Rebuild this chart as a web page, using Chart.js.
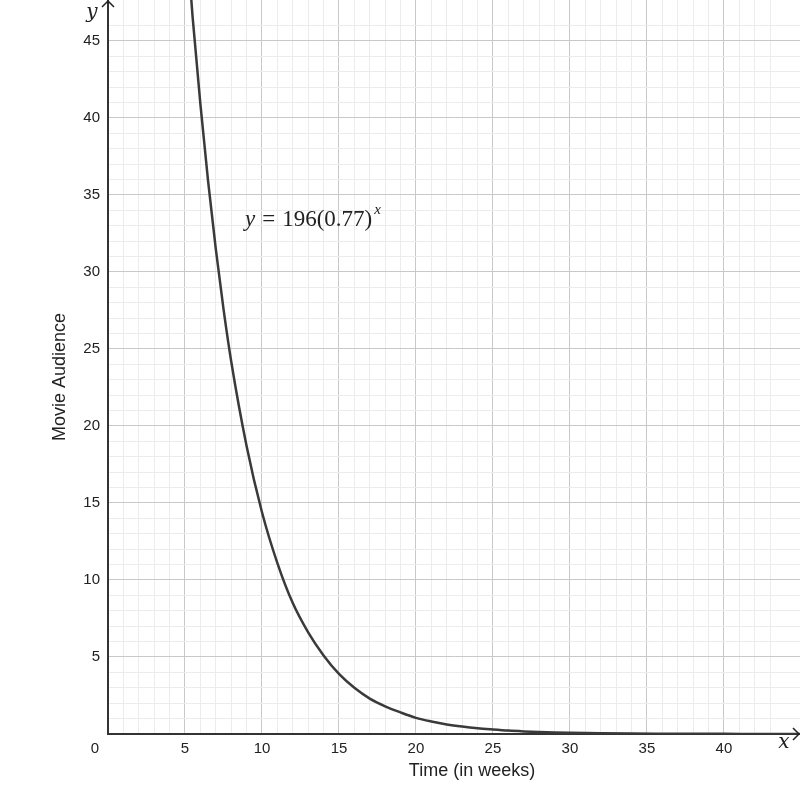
<!DOCTYPE html>
<html>
<head>
<meta charset="utf-8">
<script src="https://cdn.jsdelivr.net/npm/chart.js@4"></script>
<style>
  html, body { margin: 0; padding: 0; background: #fff; }
  #wrap { width: 800px; height: 809px; }
</style>
</head>
<body>
<div id="wrap"><canvas id="audienceChart" width="800" height="809"></canvas></div>
<script>
// weeks and audience
const weeks = [5, 5.5, 6, 6.5, 7, 7.5, 8, 9, 10, 11, 12, 13, 14, 15, 16, 17, 18, 19, 20,
  21, 22, 23, 24, 25, 26, 27, 28, 29, 30, 32, 34, 36, 38, 40, 42, 45];
const audience = [53.1, 46.5, 40.9, 35.9, 31.5, 27.6, 24.2, 18.7, 14.4, 11.1, 8.5, 6.6, 5.1, 3.9, 3.0, 2.3, 1.8, 1.4, 1.05,
  0.81, 0.62, 0.48, 0.37, 0.29, 0.22, 0.17, 0.13, 0.1, 0.08, 0.05, 0.03, 0.02, 0.01, 0.01, 0.005, 0.003];
const xMax = 44.94;
const yMax = 47.66;
const majorStep = 5;

const gridColor = (ctx) => {
  const v = ctx.tick.value;
  if (Math.abs(v - Math.round(v)) > 1e-6) return "rgba(0,0,0,0)";
  return v % majorStep === 0 ? "#c8c8c8" : "#ececec";
};
const tickLabel = (v) => (v !== 0 && v % majorStep === 0 ? String(v) : "");

// arrows, axis names and the equation label
const decorations = {
  id: "decorations",
  afterDraw(chart) {
    const { ctx, chartArea } = chart;
    const x0 = chart.scales.x.getPixelForValue(0);
    const y0 = chart.scales.y.getPixelForValue(0);
    ctx.save();
    ctx.strokeStyle = "#222";
    ctx.lineWidth = 1.5;
    ctx.beginPath();
    ctx.moveTo(x0 - 6, chartArea.top + 7);
    ctx.lineTo(x0, chartArea.top + 1);
    ctx.lineTo(x0 + 6, chartArea.top + 7);
    ctx.moveTo(chartArea.right - 7, y0 - 6);
    ctx.lineTo(chartArea.right - 1, y0);
    ctx.lineTo(chartArea.right - 7, y0 + 6);
    ctx.stroke();

    ctx.fillStyle = "#222";
    ctx.font = "15px 'Liberation Sans', Arial, sans-serif";
    ctx.textAlign = "center";
    ctx.textBaseline = "middle";
    ctx.fillText("0", x0 - 13, y0 + 15);

    ctx.font = "18px 'Liberation Sans', Arial, sans-serif";
    ctx.fillText("Time (in weeks)", 472, 771);
    ctx.save();
    ctx.translate(60, 377);
    ctx.rotate(-Math.PI / 2);
    ctx.fillText("Movie Audience", 0, 0);
    ctx.restore();

    ctx.font = "italic 20px 'DejaVu Serif', 'Liberation Serif', serif";
    ctx.fillText("y", 92, 13);
    ctx.fillText("x", 784, 743);

    // equation
    ctx.textAlign = "left";
    ctx.textBaseline = "alphabetic";
    let px = 245;
    const base = 226;
    ctx.font = "italic 23px 'Liberation Serif', serif";
    ctx.fillText("y", px, base);
    px += ctx.measureText("y").width + 7;
    ctx.font = "23px 'Liberation Serif', serif";
    ctx.fillText("=", px, base);
    px += ctx.measureText("=").width + 7;
    ctx.fillText("196(0.77)", px, base);
    px += ctx.measureText("196(0.77)").width + 2;
    ctx.font = "italic 15px 'Liberation Serif', serif";
    ctx.fillText("x", px, base - 12);
    ctx.restore();
  },
};

const audienceCtx = document.getElementById("audienceChart").getContext("2d");
new Chart(audienceCtx, {
  type: "line",
  data: {
    datasets: [
      {
        label: "Movie Audience",
        data: weeks.map((w, i) => ({ x: w, y: audience[i] })),
        borderColor: "#3a3a3a",
        borderWidth: 2.5,
        pointRadius: 0,
        cubicInterpolationMode: "monotone",
        fill: false,
      },
    ],
  },
  options: {
    responsive: false,
    animation: false,
    layout: { padding: 0 },
    plugins: {
      legend: { display: false },
      tooltip: { enabled: false },
    },
    scales: {
      x: {
        type: "linear",
        min: 0,
        max: xMax,
        afterFit: (scale) => {
          scale.height = 75;
          scale.paddingLeft = 0;
          scale.paddingRight = 0;
        },
        border: { display: true, color: "#333", width: 2 },
        grid: { color: gridColor, drawTicks: false, lineWidth: 1 },
        ticks: {
          stepSize: 1,
          autoSkip: false,
          maxRotation: 0,
          padding: 6,
          color: "#222",
          font: { family: "'Liberation Sans', Arial, sans-serif", size: 15 },
          callback: tickLabel,
        },
      },
      y: {
        type: "linear",
        min: 0,
        max: yMax,
        afterFit: (scale) => {
          scale.width = 108;
          scale.paddingTop = 0;
          scale.paddingBottom = 0;
        },
        border: { display: true, color: "#333", width: 2 },
        grid: { color: gridColor, drawTicks: false, lineWidth: 1 },
        ticks: {
          stepSize: 1,
          autoSkip: false,
          padding: 8,
          color: "#222",
          font: { family: "'Liberation Sans', Arial, sans-serif", size: 15 },
          callback: tickLabel,
        },
      },
    },
  },
  plugins: [decorations],
});
</script>
</body>
</html>
